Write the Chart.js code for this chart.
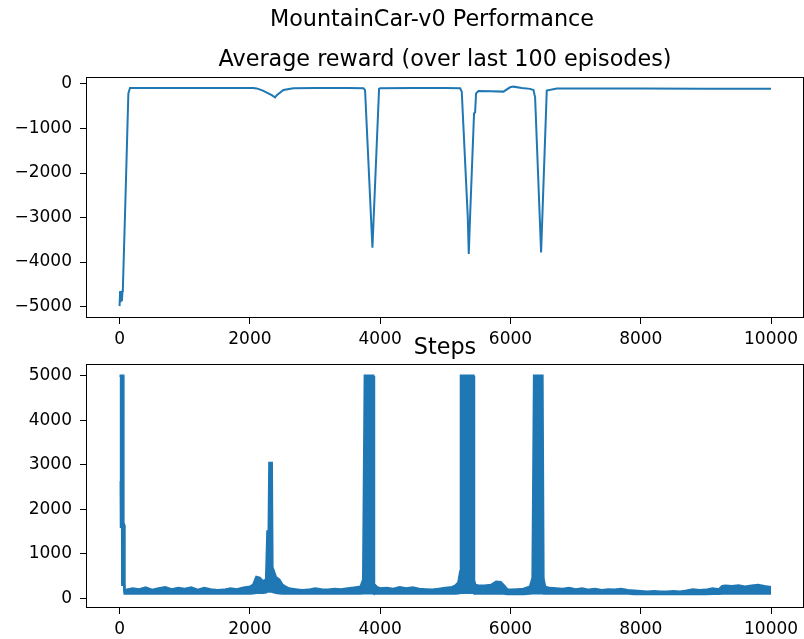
<!DOCTYPE html>
<html>
<head>
<meta charset="utf-8">
<script src="https://cdn.jsdelivr.net/npm/chart.js@4"></script>
<style>
html,body{margin:0;padding:0;background:#fff;width:804px;height:639px;overflow:hidden;position:relative;font-family:"DejaVu Sans";}
canvas{position:absolute;left:0;}
#c1{top:0;}
#c2{top:330px;}
.t{position:absolute;white-space:nowrap;text-align:center;color:#000;font-size:22.3px;line-height:20px;font-family:"DejaVu Sans";}
</style>
</head>
<body>
<canvas id="c1" width="804" height="360"></canvas>
<canvas id="c2" width="804" height="309"></canvas>
<div class="t" style="left:0;width:864px;top:8px;">MountainCar-v0 Performance</div>
<div class="t" style="left:87px;width:716px;top:48px;">Average reward (over last 100 episodes)</div>
<div class="t" style="left:87px;width:716px;top:336px;">Steps</div>
<script>
// ---- data ----
const xTicks = [0, 2000, 4000, 6000, 8000, 10000];
const rewardTicks = [-5000, -4000, -3000, -2000, -1000, 0];
const stepTicks = [0, 1000, 2000, 3000, 4000, 5000];

// Average reward (over last 100 episodes)
const rewardEpisodes = [0, 8, 15, 25, 35, 45, 50, 90, 135, 160,
  500, 1000, 1500, 2050, 2105, 2200, 2335, 2387, 2413, 2515,
  2668, 3000, 3500, 3743, 3768, 3881, 3983, 4000, 4500, 5000,
  5227, 5252, 5344, 5360, 5380, 5441, 5457, 5472, 5508, 5700,
  5892, 5994, 6045, 6174, 6301, 6353, 6378, 6470, 6557, 6711,
  7000, 8000, 9000, 9999];
const rewardValues = [-4990, -4650, -4900, -4700, -4880, -4650, -4620, -2600, -210, -90,
  -90, -90, -90, -90, -100, -150, -250, -300, -250, -135,
  -95, -90, -90, -95, -140, -3680, -110, -95, -90, -90,
  -95, -170, -2975, -3820, -2975, -657, -640, -210, -157, -165,
  -172, -75, -60, -90, -110, -134, -300, -3782, -150, -100,
  -100, -100, -105, -105];

// Steps per episode: lower and upper edge of the noisy band
const stepEpisodes = [0, 15, 18, 36, 38, 56, 58, 68, 72, 78,
  100, 200, 300, 400, 500, 600, 700, 800, 900, 1000,
  1100, 1200, 1300, 1400, 1500, 1600, 1700, 1800, 1900, 2000,
  2050, 2100, 2150, 2200, 2250, 2270, 2290, 2300, 2335, 2345,
  2400, 2450, 2500, 2550, 2600, 2700, 2800, 2900, 3000, 3100,
  3200, 3300, 3400, 3500, 3600, 3700, 3740, 3765, 3890, 3905,
  3950, 4000, 4100, 4200, 4300, 4400, 4500, 4600, 4700, 4800,
  4900, 5000, 5100, 5150, 5200, 5230, 5240, 5430, 5440, 5460,
  5500, 5600, 5700, 5780, 5850, 5890, 5950, 6000, 6100, 6200,
  6300, 6340, 6363, 6490, 6505, 6530, 6600, 6700, 6800, 6900,
  7000, 7100, 7200, 7300, 7400, 7500, 7600, 7700, 7800, 7900,
  8000, 8100, 8200, 8300, 8400, 8500, 8600, 8700, 8800, 8900,
  9000, 9100, 9200, 9250, 9300, 9400, 9500, 9600, 9700, 9800,
  9900, 9999];
const stepLow = [2600, 2600, 1600, 1600, 300, 300, 300, 300, 110, 100,
  100, 100, 100, 100, 100, 100, 100, 100, 100, 100,
  100, 100, 100, 100, 100, 100, 100, 100, 100, 100,
  110, 120, 120, 120, 130, 150, 150, 150, 150, 140,
  120, 110, 100, 100, 100, 100, 100, 100, 100, 100,
  100, 100, 100, 100, 100, 100, 110, 110, 110, 100,
  100, 100, 100, 100, 100, 100, 100, 100, 100, 100,
  100, 100, 100, 100, 110, 120, 120, 120, 110, 100,
  100, 100, 100, 100, 100, 100, 90, 90, 90, 90,
  100, 110, 110, 110, 100, 100, 100, 100, 100, 100,
  100, 100, 100, 100, 100, 100, 100, 100, 100, 90,
  90, 90, 90, 90, 90, 90, 90, 90, 90, 90,
  90, 95, 95, 100, 100, 100, 100, 100, 100, 100,
  100, 100];
const stepHigh = [5000, 5000, 5000, 5000, 5000, 5000, 1700, 1650, 300, 170,
  190, 220, 200, 240, 190, 220, 250, 200, 230, 210,
  240, 190, 230, 200, 180, 190, 220, 200, 240, 260,
  300, 480, 460, 380, 420, 1500, 1500, 3040, 3040, 700,
  470, 420, 300, 260, 220, 200, 180, 190, 220, 200,
  190, 210, 200, 220, 240, 260, 420, 5000, 5000, 320,
  250, 220, 230, 210, 250, 220, 240, 210, 200, 190,
  210, 230, 250, 280, 350, 600, 5000, 5000, 400, 300,
  290, 280, 300, 370, 360, 300, 200, 190, 200, 210,
  260, 460, 5000, 5000, 450, 260, 230, 220, 210, 230,
  200, 220, 190, 210, 180, 200, 190, 210, 180, 170,
  160, 150, 160, 150, 150, 160, 150, 170, 200, 180,
  190, 220, 200, 270, 280, 270, 290, 260, 280, 300,
  270, 250];

// ---- chart setup ----
const BLUE = '#1f77b4';
Chart.defaults.font.family = '"DejaVu Sans"';
Chart.defaults.color = '#000';

const framePlugin = {
  id: 'frame',
  afterDraw(chart) {
    const a = chart.chartArea, ctx = chart.ctx;
    ctx.save();
    ctx.strokeStyle = '#000';
    ctx.lineWidth = 1;
    ctx.strokeRect(a.left - 0.5, a.top - 0.5, a.right - a.left + 1, a.bottom - a.top + 1);
    ctx.restore();
  }
};

const fmt = v => (v < 0 ? '\u2212' : '') + Math.abs(v);

function makeOptions(yMin, yMax, yTickList, padTop, xHeight) {
  return {
    responsive: false,
    animation: false,
    events: [],
    layout: { padding: { left: 0, right: 1, top: padTop, bottom: 0 } },
    plugins: { legend: { display: false }, title: { display: false }, tooltip: { enabled: false } },
    elements: { point: { radius: 0 }, line: { tension: 0 } },
    scales: {
      x: {
        type: 'linear', min: -500, max: 10490,
        afterBuildTicks: s => { s.ticks = xTicks.map(v => ({ value: v })); },
        afterFit: s => { s.height = xHeight; },
        grid: { drawOnChartArea: false, drawTicks: true, tickLength: 7, color: '#000', lineWidth: 1 },
        border: { display: false },
        ticks: { font: { size: 17 }, color: '#000', padding: 5, maxRotation: 0, autoSkip: false, callback: fmt }
      },
      y: {
        type: 'linear', min: yMin, max: yMax,
        afterBuildTicks: s => { s.ticks = yTickList.map(v => ({ value: v })); },
        afterFit: s => { s.width = 87; },
        grid: { drawOnChartArea: false, drawTicks: true, tickLength: 7, color: '#000', lineWidth: 1 },
        border: { display: false },
        ticks: { font: { size: 17 }, color: '#000', padding: 8, autoSkip: false, callback: fmt }
      }
    }
  };
}

new Chart(document.getElementById('c1'), {
  type: 'line',
  data: {
    datasets: [{
      data: rewardEpisodes.map((e, i) => ({ x: e, y: rewardValues[i] })),
      borderColor: BLUE, borderWidth: 2, fill: false, pointRadius: 0
    }]
  },
  options: makeOptions(-5234, 134, rewardTicks, 78, 43),
  plugins: [framePlugin]
});

new Chart(document.getElementById('c2'), {
  type: 'line',
  data: {
    datasets: [{
      data: stepEpisodes.map((e, i) => ({ x: e, y: stepHigh[i] })),
      borderColor: BLUE, backgroundColor: BLUE, borderWidth: 2.5, fill: '+1', pointRadius: 0
    }, {
      data: stepEpisodes.map((e, i) => ({ x: e, y: stepLow[i] })),
      borderColor: BLUE, borderWidth: 2, fill: false, pointRadius: 0
    }]
  },
  options: makeOptions(-195, 5240, stepTicks, 35, 32),
  plugins: [framePlugin]
});
</script>
</body>
</html>
